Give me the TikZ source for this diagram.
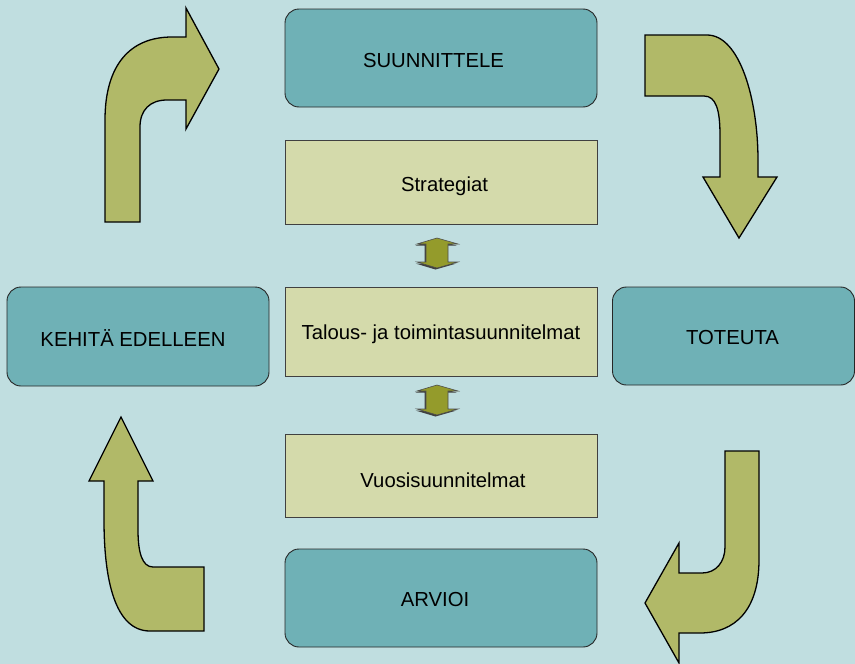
\documentclass[tikz,border=0pt]{standalone}
\usepackage{fontspec}
\setmainfont{Liberation Sans}
\definecolor{bgc}{HTML}{C0DEE0}
\definecolor{tealc}{HTML}{6FB1B6}
\definecolor{lightc}{HTML}{D4DAAB}
\definecolor{arrc}{HTML}{B1B968}
\definecolor{dblc}{HTML}{949B2B}
\begin{document}
\begin{tikzpicture}[x=1pt,y=-1pt,
  tealbox/.style={draw=black!85, line width=0.9pt, fill=tealc, rounded corners=14pt, inner sep=0pt},
  lightbox/.style={draw=black!75, line width=0.9pt, fill=lightc, inner sep=0pt},
  boxtext/.style={inner sep=0pt, font=\fontsize{20.3}{24}\selectfont},
  bigarrow/.style={draw=black, line width=1.3pt, fill=arrc, line join=miter},
  dblarrow/.style={draw=black!70, line width=0.6pt, fill=dblc},
  dblshadow/.style={fill=black!75}
]
\useasboundingbox (0,0) rectangle (855,664);
\fill[bgc] (0,0) rectangle (855,664);

% boxes
\node[tealbox, minimum width=312pt, minimum height=98pt] (plan) at (441,58) {};
\node[lightbox, minimum width=312pt, minimum height=84pt] (strat) at (441,182) {};
\node[lightbox, minimum width=312pt, minimum height=89pt] (talous) at (441,331.5) {};
\node[lightbox, minimum width=312pt, minimum height=83pt] (vuosi) at (441,475.5) {};
\node[tealbox, minimum width=312pt, minimum height=98pt] (arvioi) at (441,598) {};
\node[tealbox, minimum width=262pt, minimum height=99pt] (kehita) at (138,336.5) {};
\node[tealbox, minimum width=242pt, minimum height=98pt] (toteuta) at (733.5,336) {};

% texts
\node[boxtext] (planT) at ([xshift=-7.5pt,yshift=-3pt]plan.center) {SUUNNITTELE};
\node[boxtext] (stratT) at ([xshift=3.5pt,yshift=-4pt]strat.center) {Strategiat};
\node[boxtext] (talousT) at ([xshift=0pt,yshift=-2.5pt]talous.center) {Talous- ja toimintasuunnitelmat};
\node[boxtext] (vuosiT) at ([xshift=2pt,yshift=-4.5pt]vuosi.center) {Vuosisuunnitelmat};
\node[boxtext] (arvioiT) at ([xshift=-6pt,yshift=-2pt]arvioi.center) {ARVIOI};
\node[boxtext] (kehitaT) at ([xshift=-5pt,yshift=-1.5pt]kehita.center) {KEHITÄ EDELLEEN};
\node[boxtext] (toteutaT) at ([xshift=-1pt,yshift=-2pt]toteuta.center) {TOTEUTA};

% double arrows
\foreach \dy/\nm in {0/da1,147/da2}{
  \begin{scope}[yshift=-\dy pt]
    \fill[dblshadow] ([shift={(-1.5,1.5)}]437,238) -- ++(21,6) -- ++(-10,0) -- ++(0,18) -- ++(10,0) -- ++(-21,6) -- ++(-20,-6) -- ++(9,0) -- ++(0,-18) -- ++(-9,0) -- cycle;
    \draw[dblarrow] (437,238) coordinate (\nm) -- (458,244) -- (448,244) -- (448,262) -- (458,262) -- (437,268) -- (417,262) -- (426,262) -- (426,244) -- (417,244) -- cycle;
  \end{scope}
}

% top-left arrow
\draw[bigarrow] (105,222) -- (105,120) .. controls (105,65) and (130,37) .. (172,37) -- (186,37) -- (186,8) -- (219,69) -- (186,129) -- (186,100) -- (167,100) .. controls (150,100) and (140,110) .. (140,127) -- (140,222) -- cycle;

% top-right arrow
\draw[bigarrow] (645,35) -- (707,35) .. controls (740,35) and (758,100) .. (758,160) -- (758,177) -- (777,177) -- (739,238) -- (703,177) -- (720,177) -- (720,135) .. controls (720,110) and (716,96) .. (704,96) -- (645,96) -- cycle;

% bottom-right arrow
\draw[bigarrow] (725,451) -- (759,451) -- (759,560) .. controls (759,610) and (735,633) .. (700,633) -- (679,633) -- (679,663) -- (645,603) -- (679,543) -- (679,573) -- (702,573) .. controls (716,573) and (725,562) .. (725,547) -- cycle;

% bottom-left arrow
\draw[bigarrow] (121,417) -- (153,481) -- (138,481) -- (138,530) .. controls (138,552) and (142,567) .. (153,567) -- (204,567) -- (204,631) -- (150,631) .. controls (115,631) and (104,580) .. (104,520) -- (104,481) -- (89,481) -- cycle;
\end{tikzpicture}
\end{document}
